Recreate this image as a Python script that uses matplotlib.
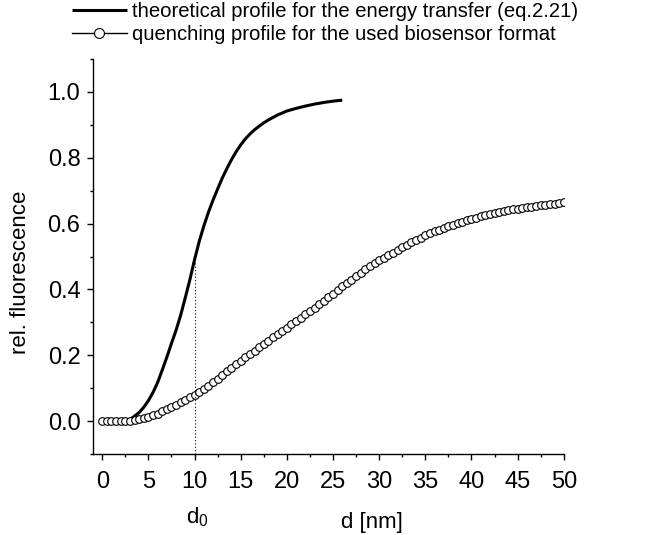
import numpy as np
import matplotlib
matplotlib.use("Agg")
import matplotlib.pyplot as plt
from matplotlib.ticker import MultipleLocator, FormatStrFormatter

plt.rcParams['font.family'] = ['Liberation Sans', 'DejaVu Sans']
plt.rcParams['mathtext.default'] = 'regular'

# theoretical energy-transfer profile (eq. 2.21)
d_theo = [3.0, 3.5, 4.0, 4.5, 5.0, 5.5, 6.0, 6.5, 7.0, 7.5, 8.0, 8.5, 9.0, 9.5,
          10.0, 10.5, 11.0, 11.5, 12.0, 12.5, 13.0, 13.5, 14.0, 14.5, 15.0,
          15.5, 16.0, 16.5, 17.0, 17.5, 18.0, 19.0, 20.0, 21.0, 22.0, 23.0,
          24.0, 25.0, 26.0]
f_theo = [0.005, 0.015, 0.026, 0.042, 0.062, 0.087, 0.117, 0.155, 0.194, 0.236,
          0.276, 0.322, 0.375, 0.430, 0.490, 0.545, 0.592, 0.634, 0.671, 0.705,
          0.738, 0.767, 0.794, 0.818, 0.839, 0.857, 0.872, 0.885, 0.896, 0.906,
          0.915, 0.930, 0.942, 0.950, 0.957, 0.963, 0.968, 0.972, 0.975]

# measured quenching profile, one point every 0.5 nm from 0 to 50 nm
d_quench = np.arange(0, 50.5, 0.5)
f_quench = [0.000, 0.000, 0.000, 0.000, 0.000, 0.001, 0.001, 0.003, 0.005, 0.008,
            0.012, 0.017, 0.023, 0.030, 0.036, 0.043, 0.050, 0.057, 0.064, 0.072,
            0.080, 0.089, 0.098, 0.108, 0.118, 0.129, 0.140, 0.151, 0.162, 0.173,
            0.184, 0.194, 0.204, 0.214, 0.224, 0.234, 0.244, 0.254, 0.264, 0.274,
            0.284, 0.294, 0.304, 0.314, 0.324, 0.334, 0.345, 0.355, 0.366, 0.376,
            0.387, 0.398, 0.409, 0.420, 0.430, 0.441, 0.451, 0.461, 0.470, 0.479,
            0.488, 0.496, 0.504, 0.512, 0.520, 0.528, 0.536, 0.543, 0.550, 0.557,
            0.564, 0.570, 0.576, 0.582, 0.587, 0.592, 0.597, 0.602, 0.606, 0.610,
            0.614, 0.618, 0.622, 0.625, 0.628, 0.631, 0.634, 0.637, 0.640, 0.643,
            0.645, 0.647, 0.649, 0.651, 0.653, 0.655, 0.657, 0.659, 0.661, 0.663,
            0.665]

d0 = 10.0
f_d0 = f_theo[d_theo.index(d0)]

fig = plt.figure(figsize=(6.48, 5.35), dpi=100)
ax = fig.add_axes([0.1435, 0.1514, 0.7265, 0.7383])

ax.plot(d_theo, f_theo, color='black', lw=2.2, solid_capstyle='butt',
        label='theoretical profile for the energy transfer (eq.2.21)')
ax.plot(d_quench, f_quench, color='black', lw=1.0, marker='o', ms=5.5,
        mfc='white', mec='black', mew=0.8,
        label='quenching profile for the used biosensor format')
ax.vlines(d0, -0.1, f_d0, colors='black', linestyles=(0, (1, 2)), lw=0.8)

ax.set_xlim(-1, 50)
ax.set_ylim(-0.1, 1.1)
ax.xaxis.set_major_locator(MultipleLocator(5))
ax.xaxis.set_minor_locator(MultipleLocator(2.5))
ax.yaxis.set_major_locator(MultipleLocator(0.2))
ax.yaxis.set_minor_locator(MultipleLocator(0.1))
ax.yaxis.set_major_formatter(FormatStrFormatter('%.1f'))

for s in ['top', 'right']:
    ax.spines[s].set_visible(False)
for s in ['left', 'bottom']:
    ax.spines[s].set_linewidth(1.0)
ax.tick_params(which='major', direction='out', length=4.5, width=1.0,
               labelsize=17)
ax.tick_params(axis='x', which='major', pad=8)
ax.tick_params(axis='y', which='major', pad=4.5)
ax.tick_params(which='minor', direction='out', length=2.3, width=1.0)

# axis titles sit off-centre, as in the original layout
ax.set_xlabel('d [nm]', fontsize=16, va='baseline')
ax.xaxis.set_label_coords((372 - 93) / 471, -(528 - 454) / 395)
ax.set_ylabel('rel. fluorescence', fontsize=16)
ax.yaxis.set_label_coords(-0.131, (454 - 272) / 395)

fig.text(197 / 648, 1 - 523 / 535, 'd$_0$', fontsize=16,
         ha='center', va='baseline')

fig.legend(loc='upper left', bbox_to_anchor=(70 / 648, 1.0), frameon=False,
           fontsize=14.6, handlelength=2.7, handletextpad=0.25,
           labelspacing=0.2, borderpad=0.1, borderaxespad=0.0,
           markerscale=1.3)

fig.savefig('out.png', dpi=100)
